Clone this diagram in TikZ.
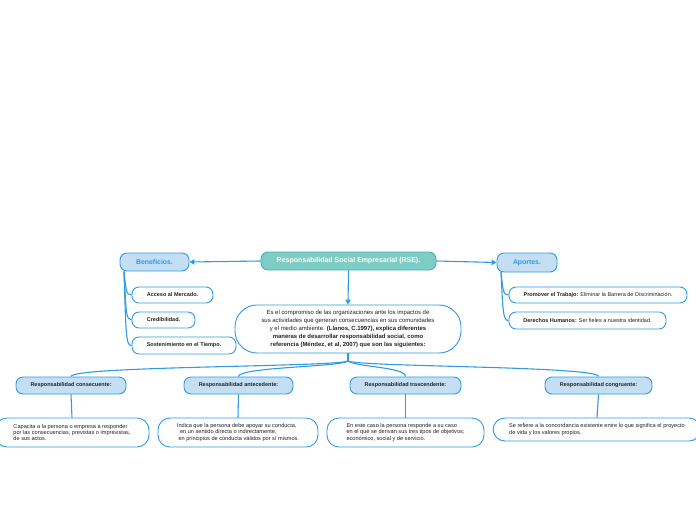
\documentclass[tikz,border=0pt]{standalone}
\usepackage{fontspec}
\setmainfont{Liberation Sans}
\usetikzlibrary{arrows.meta}
\definecolor{bl}{HTML}{2E9BE3}
\definecolor{lb}{HTML}{C4DEF3}
\definecolor{tealf}{HTML}{7ECDC4}
\definecolor{teald}{HTML}{46B3AA}
\definecolor{txt}{HTML}{222222}
\tikzset{
  base/.style={draw=bl, line width=0.9pt, rounded corners=7pt, inner sep=1pt, text=txt, align=center},
  leaf/.style={base, fill=white, font=\bfseries\fontsize{5.5}{6.5}\selectfont},
  cat/.style={base, fill=lb, text=bl, font=\bfseries\fontsize{6.9}{8}\selectfont},
  lvl/.style={base, fill=lb, text=txt, font=\bfseries\fontsize{5.5}{6.5}\selectfont},
  dsc/.style={base, fill=white, rounded corners=12pt, align=left, font=\fontsize{5.6}{6.3}\selectfont},
  rootbox/.style={draw=teald, line width=0.9pt, fill=tealf, rounded corners=7pt, text=white, font=\bfseries\fontsize{7}{8}\selectfont},
  con/.style={draw=bl, line width=1.1pt},
  arr/.style={con, -{Triangle[width=5.5pt,length=5pt]}}
}
\begin{document}
\begin{tikzpicture}[x=1pt,y=-1pt]
\useasboundingbox (0,0) rectangle (696,520);
\node[rootbox, minimum width=175pt, minimum height=18pt] (rse) at (348.5,261) {Responsabilidad Social Empresarial (RSE).};
\node[cat, minimum width=69pt, minimum height=18pt] (ben) at (154.5,262) {Beneficios.};
\node[cat, minimum width=60pt, minimum height=19pt] (apo) at (527,262.5) {Aportes.};
\node[leaf, minimum width=81pt, minimum height=16pt] (acc) at (172.5,295) {Acceso al Mercado.};
\node[leaf, minimum width=63pt, minimum height=16pt] (cred) at (163.5,320) {Credibilidad.};
\node[leaf, minimum width=104pt, minimum height=17pt] (sost) at (184,345.5) {Sostenimiento en el Tiempo.};
\node[leaf, minimum width=178pt, minimum height=16pt] (prom) at (598,295) {Promover el Trabajo: \mdseries Eliminar la Barrera de Discriminación.};
\node[leaf, minimum width=157pt, minimum height=17pt] (der) at (587.5,320.5) {Derechos Humanos: \mdseries Ser fieles a nuestra identidad.};
\node[dsc, rounded corners=22pt, align=center, minimum width=226pt, minimum height=48pt, font=\fontsize{5.95}{7.9}\selectfont] (def) at (348,329)
 {Es el compromiso de las organizaciones ante los impactos de\\
  sus actividades que generan consecuencias en sus comunidades\\
  y el medio ambiente. \textbf{(Llanos, C.1997), explica diferentes}\\
  \textbf{maneras de desarrollar responsabilidad social, como}\\
  \textbf{referencia (Méndez, et al, 2007) que son las siguientes:}};
\node[lvl, minimum width=110pt, minimum height=17pt] (cons) at (71,385.5) {Responsabilidad consecuente:};
\node[lvl, minimum width=109pt, minimum height=17pt] (ante) at (238.5,385.5) {Responsabilidad antecedente:};
\node[lvl, minimum width=111pt, minimum height=17pt] (tras) at (405.5,385.5) {Responsabilidad trascendente:};
\node[lvl, minimum width=107pt, minimum height=17pt] (cong) at (598.5,385.5) {Responsabilidad congruente:};
\node[dsc, minimum width=154pt, minimum height=29pt] (d1) at (72,432.5)
 {Capacita a la persona o empresa a responder\\ por las consecuencias, previstas o imprevistas,\\ de sus actos.};
\node[dsc, minimum width=160pt, minimum height=29pt] (d2) at (238,432.5)
 {Indica que la persona debe apoyar su conducta,\\ \ \ en un sentido directa o indirectamente,\\ \ en principios de conducta válidos por sí mismos.};
\node[dsc, minimum width=157pt, minimum height=29pt] (d3) at (405.5,432.5)
 {En este caso la persona responde a su caso\\ en el qué se derivan sus tres tipos de objetivos;\\ económico, social y de servicio.};
\node[dsc, minimum width=208pt, minimum height=23pt] (d4) at (597,429.5)
 {Se refiere a la concordancia existente entre lo que significa el proyecto\\ de vida y los valores propios.};
% arrows from root
\draw[arr] (rse.west) -- (ben.east);
\draw[arr] (rse.east) -- (apo.west);
\draw[arr] (rse.south) -- (def.north);
% beneficios children
\coordinate (bs) at (124,271.5);
\draw[con] (bs) .. controls (126,290) and (126,295) .. (acc.west);
\draw[con] (bs) .. controls (126,312) and (126,320) .. (cred.west);
\draw[con] (bs) .. controls (126,336) and (126,345.5) .. (sost.west);
% aportes children
\coordinate (as) at (501,272);
\draw[con] (as) .. controls (503,290) and (503,295) .. (prom.west);
\draw[con] (as) .. controls (503,312) and (503,320.5) .. (der.west);
% hub
\coordinate (hub) at (348,361);
\draw[con] (def.south) -- (hub);
\draw[con] (hub) .. controls (335,367) and (71,366) .. (cons.north);
\draw[con] (hub) .. controls (340,367) and (238.5,367) .. (ante.north);
\draw[con] (hub) .. controls (356,367) and (405.5,367) .. (tras.north);
\draw[con] (hub) .. controls (361,367) and (598.5,366) .. (cong.north);
% level to descriptions
\draw[con] (cons.south) -- (d1.north);
\draw[con] (ante.south) -- (d2.north);
\draw[con] (tras.south) -- (d3.north);
\draw[con] (cong.south) -- (d4.north);
\end{tikzpicture}
\end{document}
